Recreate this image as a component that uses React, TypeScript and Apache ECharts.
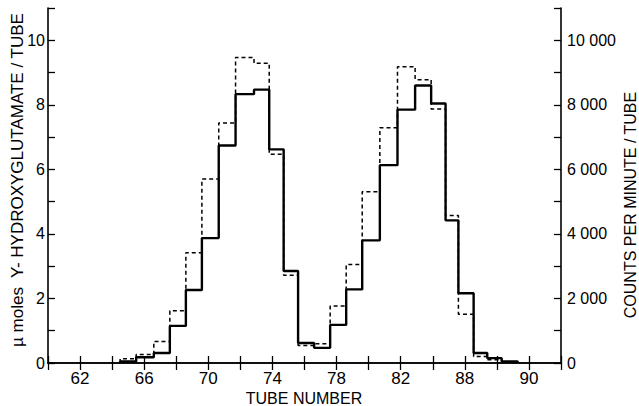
import React, { useEffect, useRef } from "react";
import * as echarts from "echarts";

// Left edges of each tube fraction (last value = right edge of the last fraction)
const binEdges = [64.5, 65.5, 66.6, 67.6, 68.6, 69.6, 70.65, 71.7, 72.85, 73.8, 74.7, 75.6, 76.6, 77.6, 78.6, 79.6, 80.7, 81.8, 82.9, 83.9, 84.8, 85.6, 86.55, 87.4, 88.3, 89.3];
// µmoles γ-hydroxyglutamate / tube (solid, left axis)
const hydroxyglutamate = [0.05, 0.18, 0.31, 1.15, 2.26, 3.87, 6.74, 8.33, 8.47, 6.62, 2.85, 0.62, 0.47, 1.18, 2.28, 3.8, 6.13, 7.85, 8.6, 8.04, 4.42, 2.16, 0.31, 0.15, 0.05];
// counts per minute / tube (dashed, right axis)
const countsPerMinute = [130, 260, 670, 1620, 3420, 5700, 7440, 9470, 9290, 6470, 2720, 540, 600, 1770, 3050, 5310, 7290, 9180, 8780, 7870, 4570, 1510, 200, 100, 40];

const xTickValues = [62, 66, 70, 74, 78, 82, 86, 90];
const xTickLabels = ["62", "66", "70", "74", "78", "82", "88", "90"];
const leftTickLabels = ["0", "2", "4", "6", "8", "10"];
const rightTickLabels = ["0", "2 000", "4 000", "6 000", "8 000", "10 000"];

const xTitle = "TUBE NUMBER";
const leftTitle = "µ moles  Y- HYDROXYGLUTAMATE / TUBE";
const rightTitle = "COUNTS PER MINUTE / TUBE";

function stepPoints(values: number[]): number[][] {
  const pts: number[][] = [[binEdges[0], 0]];
  values.forEach((v, i) => pts.push([binEdges[i], v]));
  pts.push([binEdges[values.length], 0]);
  return pts;
}

const FONT = "Liberation Sans";

function titleText(text: string, x: number, y: number, rotation: number, size: number) {
  return {
    type: "text",
    x,
    y,
    rotation,
    silent: true,
    style: {
      text,
      fill: "#000",
      font: `${size}px "${FONT}"`,
      align: "center",
      verticalAlign: "middle",
      textAlign: "center",
      textVerticalAlign: "middle",
    },
  };
}

export default function App() {
  const ref = useRef<HTMLDivElement>(null);
  useEffect(() => {
    if (!ref.current) return;
    const chart = echarts.init(ref.current, undefined, { renderer: "svg" });
    const axisLine = { show: true, lineStyle: { color: "#000", width: 1.6 } };
    const tick = { show: true, inside: true, length: 7, lineStyle: { color: "#000", width: 1.3 } };
    chart.setOption({
      animation: false,
      backgroundColor: "#fff",
      grid: { left: 48, right: 78, top: 8, bottom: 43, containLabel: false },
      graphic: [
        titleText(xTitle, 304, 398, 0, 16),
        titleText(leftTitle, 17, 180, Math.PI / 2, 17),
        titleText(rightTitle, 630, 205, Math.PI / 2, 16),
      ],
      xAxis: [
        {
          type: "value",
          min: 60,
          max: 92,
          interval: 2,
          position: "bottom",
          axisLine,
          axisTick: tick,
          splitLine: { show: false },
          axisLabel: {
            color: "#000",
            fontFamily: FONT,
            fontSize: 17,
            margin: 7,
            formatter: (v: number) => {
              const i = xTickValues.indexOf(v);
              return i >= 0 ? xTickLabels[i] : "";
            },
          },
        },
        {
          type: "value",
          min: 60,
          max: 92,
          interval: 2,
          position: "top",
          axisLine,
          axisTick: tick,
          splitLine: { show: false },
          axisLabel: { show: false },
        },
      ],
      yAxis: [
        {
          type: "value",
          min: 0,
          max: 11,
          interval: 1,
          position: "left",
          axisLine,
          axisTick: tick,
          splitLine: { show: false },
          axisLabel: {
            color: "#000",
            fontFamily: FONT,
            fontSize: 16,
            margin: 3,
            formatter: (v: number) => (v % 2 === 0 ? leftTickLabels[v / 2] : ""),
          },
        },
        {
          type: "value",
          min: 0,
          max: 11000,
          interval: 1000,
          position: "right",
          axisLine,
          axisTick: tick,
          splitLine: { show: false },
          axisLabel: {
            color: "#000",
            fontFamily: FONT,
            fontSize: 16,
            margin: 6,
            formatter: (v: number) => (v % 2000 === 0 ? rightTickLabels[v / 2000] : ""),
          },
        },
      ],
      series: [
        {
          type: "line",
          name: "hydroxyglutamate",
          xAxisIndex: 0,
          yAxisIndex: 0,
          step: "end",
          symbol: "none",
          data: stepPoints(hydroxyglutamate),
          lineStyle: { color: "#000", width: 2.4 },
          z: 3,
        },
        {
          type: "line",
          name: "counts",
          xAxisIndex: 0,
          yAxisIndex: 1,
          step: "end",
          symbol: "none",
          data: stepPoints(countsPerMinute),
          lineStyle: { color: "#000", width: 1.5, type: [4, 3] },
          z: 2,
        },
      ],
    });
    return () => chart.dispose();
  }, []);
  return (
    <div
      ref={ref}
      style={{ position: "fixed", left: 0, top: 0, width: 639, height: 406, background: "#fff" }}
    />
  );
}
